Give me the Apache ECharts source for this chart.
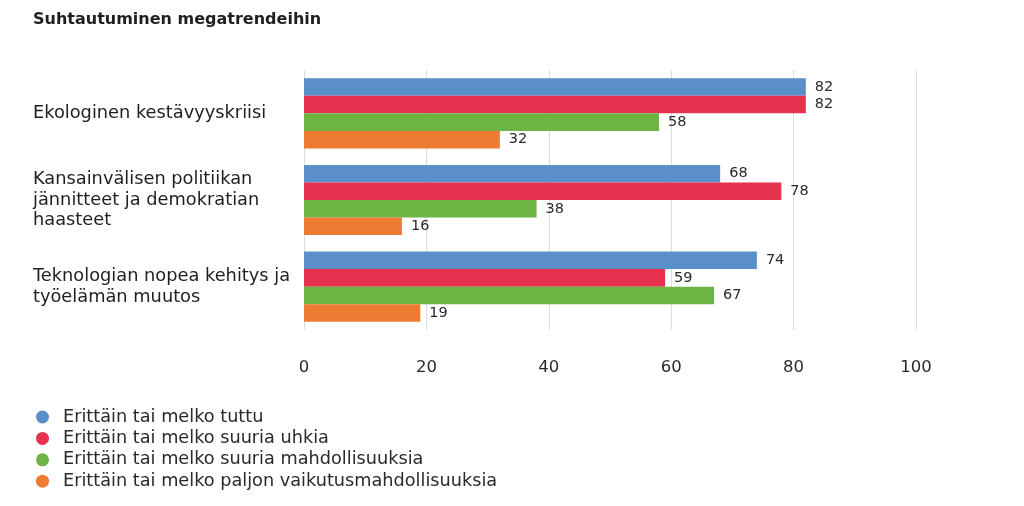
<!DOCTYPE html>
<html><head><meta charset="utf-8">
<script src="https://cdn.jsdelivr.net/npm/echarts@6/dist/echarts.min.js"></script>
<style>html,body{margin:0;padding:0;background:#fff}#c{width:1024px;height:506px}</style>
</head><body><div id="c"></div>
<script>
const title = "Suhtautuminen megatrendeihin";
const categories = ["Ekologinen kestävyyskriisi", "Kansainvälisen politiikan\njännitteet ja demokratian\nhaasteet", "Teknologian nopea kehitys ja\ntyöelämän muutos"];
const seriesNames = ["Erittäin tai melko tuttu", "Erittäin tai melko suuria uhkia", "Erittäin tai melko suuria mahdollisuuksia", "Erittäin tai melko paljon vaikutusmahdollisuuksia"];
const tuttu = [82, 68, 74];
const uhkia = [82, 78, 59];
const mahdollisuuksia = [58, 38, 67];
const vaikutus = [32, 16, 19];
const colors = ["#5b8fc9", "#e6314f", "#6cb443", "#ee7b32"];
const values = [tuttu, uhkia, mahdollisuuksia, vaikutus];
const font = "'DejaVu Sans'";

const chart = echarts.init(document.getElementById('c'));
chart.setOption({
  animation: false,
  title: {text: title, left: 33, top: 12, padding: 0, textStyle: {fontFamily: font, fontSize: 16, fontWeight: 'bold', color: '#1f1f1f'}},
  legend: {
    orient: 'vertical', left: 36, top: 408, padding: 0, itemGap: 3.4, icon: 'circle', itemWidth: 13, itemHeight: 13,
    textStyle: {fontFamily: font, fontSize: 17.7, lineHeight: 17, color: '#2a2a2a', padding: [0,0,0,9]},
    data: seriesNames
  },
  grid: {left: 304, right: 108, top: 70, bottom: 176, containLabel: false},
  xAxis: {
    type: 'value', min: 0, max: 100, interval: 20,
    axisLine: {show: false}, axisTick: {show: false},
    splitLine: {lineStyle: {color: '#dcdcdc', width: 1}},
    axisLabel: {margin: 29, fontFamily: font, fontSize: 16.5, color: '#2a2a2a'}
  },
  yAxis: {
    type: 'category', data: categories, inverse: true,
    axisLine: {show: false}, axisTick: {show: false},
    axisLabel: {align: 'left', margin: 271, fontFamily: font, fontSize: 17.8, lineHeight: 20.5, color: '#1f1f1f'}
  },
  series: seriesNames.map((n, i) => ({
    name: n, type: 'bar', data: values[i], barGap: '0%', barCategoryGap: '19%',
    itemStyle: {color: colors[i]},
    label: {show: true, position: 'right', distance: 9, fontFamily: font, fontSize: 14.5, color: '#2a2a2a'}
  }))
});
</script></body></html>
